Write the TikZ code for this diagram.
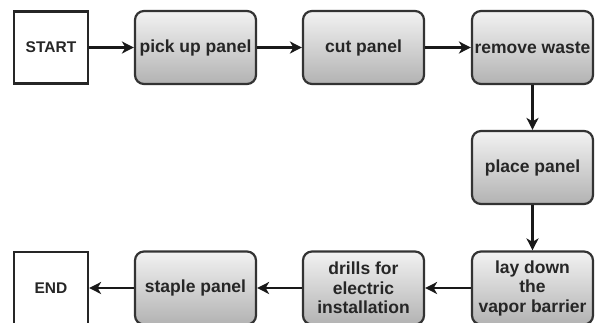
\documentclass[tikz,border=0pt]{standalone}
\usepackage{fontspec}
\setmainfont{Liberation Sans}
\usetikzlibrary{arrows.meta}
\begin{document}
\begin{tikzpicture}[x=1pt,y=-1pt,
  font=\fontsize{17.5}{19.5}\selectfont\bfseries,
  stepbox/.style={draw=black!80, line width=2.2pt, rounded corners=9pt,
    top color=black!5, bottom color=black!30, text=black!85,
    minimum width=121pt, minimum height=73pt, align=center, inner sep=0pt},
  termbox/.style={draw=black!85, line width=2.2pt, fill=white,
    minimum width=74pt, minimum height=72pt, inner sep=0pt, text=black!85,
    font=\fontsize{15.5}{18}\selectfont\bfseries},
  flow/.style={line width=2.2pt, draw=black!90,
    -{Stealth[length=12pt,width=12pt,inset=3.5pt]}}]
\useasboundingbox (0,0) rectangle (600,322);
\begin{scope}
\clip (0,0) rectangle (600,322);
% top row
\node[termbox] (start) at (51,47.5) {START};
\node[stepbox] (pick) at (195.5,47.5) {pick up panel};
\node[stepbox] (cut) at (363.5,47.5) {cut panel};
\node[stepbox] (waste) at (532.5,47.5) {remove waste};
% right column
\node[stepbox] (place) at (532.5,167.5) {place panel};
% bottom row
\node[stepbox] (vapor) at (532.5,288) {lay down\\the\\vapor barrier};
\node[stepbox] (drill) at (363.5,288) {drills for\\electric\\installation};
\node[stepbox] (staple) at (195.5,288) {staple panel};
\node[termbox] (end) at (51,288) {END};
% connectors
\draw[flow] (start) -- (pick);
\draw[flow] (pick) -- (cut);
\draw[flow] (cut) -- (waste);
\draw[flow] (waste) -- (place);
\draw[flow] (place) -- (vapor);
\draw[flow] (vapor) -- (drill);
\draw[flow] (drill) -- (staple);
\draw[flow] (staple) -- (end);
\end{scope}
\end{tikzpicture}
\end{document}
